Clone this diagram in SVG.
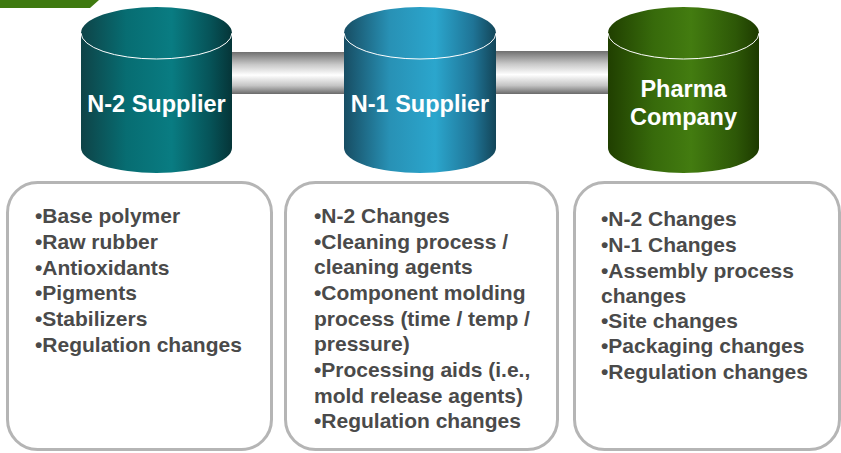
<svg xmlns="http://www.w3.org/2000/svg" width="841" height="453" viewBox="0 0 841 453">
<defs>
<linearGradient id="gTeal" x1="0" y1="0" x2="1" y2="0">
<stop offset="0" stop-color="#0e4347"/>
<stop offset="0.3" stop-color="#076d72"/>
<stop offset="0.6" stop-color="#097c82"/>
<stop offset="0.85" stop-color="#065459"/>
<stop offset="1" stop-color="#053538"/>
</linearGradient>
<linearGradient id="gBlue" x1="0" y1="0" x2="1" y2="0">
<stop offset="0" stop-color="#174d63"/>
<stop offset="0.3" stop-color="#2891b5"/>
<stop offset="0.6" stop-color="#2ba6cd"/>
<stop offset="0.85" stop-color="#1f7496"/>
<stop offset="1" stop-color="#134558"/>
</linearGradient>
<linearGradient id="gGreen" x1="0" y1="0" x2="1" y2="0">
<stop offset="0" stop-color="#203f00"/>
<stop offset="0.3" stop-color="#376a0b"/>
<stop offset="0.55" stop-color="#437c10"/>
<stop offset="0.85" stop-color="#2d5707"/>
<stop offset="1" stop-color="#1d3a00"/>
</linearGradient>
<linearGradient id="gPipe" x1="0" y1="0" x2="0" y2="1">
<stop offset="0" stop-color="#6f6f6f"/>
<stop offset="0.3" stop-color="#c8c8c8"/>
<stop offset="0.55" stop-color="#ffffff"/>
<stop offset="0.8" stop-color="#c4c4c4"/>
<stop offset="1" stop-color="#6a6a6a"/>
</linearGradient>
</defs>
<style>
.lbl{font-family:"Liberation Sans",Arial,sans-serif;font-weight:bold;font-size:23.5px;fill:#ffffff;text-anchor:middle}
.box{fill:#ffffff;stroke:#b5b5b5;stroke-width:3}
.txt{font-family:"Liberation Sans",Arial,sans-serif;font-weight:bold;font-size:21px;fill:#4a4a4a}
.rim{fill:none;stroke:#ffffff;stroke-width:1}
</style>
<polygon points="0,0 99,0 90,8 0,8" fill="#3f7a10"/>
<g id="connectors">
<rect x="230" y="52" width="116" height="42" fill="url(#gPipe)"/>
<rect x="494" y="51" width="116" height="43" fill="url(#gPipe)"/>
</g>
<g id="n2">
<path d="M81,33 A75.5,26 0 0 1 232,33 L232,148 A75.5,25 0 0 1 81,148 Z" fill="url(#gTeal)"/>
<path class="rim" d="M81,33 A75.5,26 0 0 0 232,33"/>
<text class="lbl" x="156.5" y="112">N-2 Supplier</text>
</g>
<g id="n1">
<path d="M344,33 A76,26 0 0 1 496,33 L496,148 A76,25 0 0 1 344,148 Z" fill="url(#gBlue)"/>
<path class="rim" d="M344,33 A76,26 0 0 0 496,33"/>
<text class="lbl" x="420" y="112">N-1 Supplier</text>
</g>
<g id="pharma">
<path d="M608,33 A75.5,26 0 0 1 759,33 L759,148 A75.5,25 0 0 1 608,148 Z" fill="url(#gGreen)"/>
<path class="rim" d="M608,33 A75.5,26 0 0 0 759,33"/>
<text class="lbl" x="683.5" y="97">Pharma</text>
<text class="lbl" x="683.5" y="125">Company</text>
</g>
<g id="box1">
<rect class="box" x="7.5" y="182.5" width="264" height="267" rx="30" ry="30"/>
<text class="txt" x="35" y="223">•Base polymer</text>
<text class="txt" x="35" y="249">•Raw rubber</text>
<text class="txt" x="35" y="275">•Antioxidants</text>
<text class="txt" x="35" y="300">•Pigments</text>
<text class="txt" x="35" y="326">•Stabilizers</text>
<text class="txt" x="35" y="352">•Regulation changes</text>
</g>
<g id="box2">
<rect class="box" x="285.5" y="182.5" width="272" height="267" rx="30" ry="30"/>
<text class="txt" x="314" y="223">•N-2 Changes</text>
<text class="txt" x="314" y="249">•Cleaning process /</text>
<text class="txt" x="314" y="274">cleaning agents</text>
<text class="txt" x="314" y="300">•Component molding</text>
<text class="txt" x="314" y="326">process (time / temp /</text>
<text class="txt" x="314" y="351">pressure)</text>
<text class="txt" x="314" y="377">•Processing aids (i.e.,</text>
<text class="txt" x="314" y="403">mold release agents)</text>
<text class="txt" x="314" y="428">•Regulation changes</text>
</g>
<g id="box3">
<rect class="box" x="574.5" y="182.5" width="265" height="267" rx="30" ry="30"/>
<text class="txt" x="601" y="226">•N-2 Changes</text>
<text class="txt" x="601" y="252">•N-1 Changes</text>
<text class="txt" x="601" y="278">•Assembly process</text>
<text class="txt" x="601" y="303">changes</text>
<text class="txt" x="601" y="328">•Site changes</text>
<text class="txt" x="601" y="353">•Packaging changes</text>
<text class="txt" x="601" y="379">•Regulation changes</text>
</g>
</svg>
